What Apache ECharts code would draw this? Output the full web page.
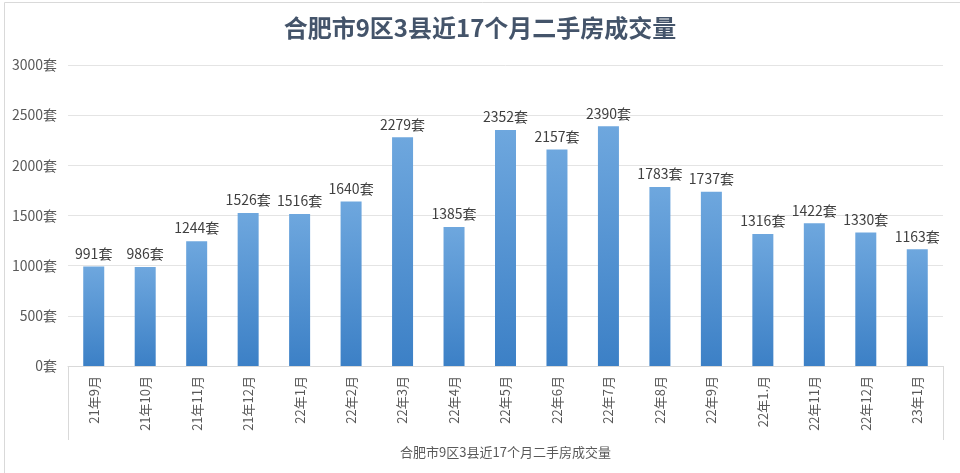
<!DOCTYPE html>
<html><head><meta charset="utf-8">
<script src="https://cdn.jsdelivr.net/npm/echarts@6/dist/echarts.min.js"></script>
<style>html,body{margin:0;padding:0;background:#fff}#c{width:960px;height:473px}</style>
</head><body><div id="c"></div>
<script>
var titleText = '合肥市9区3县近17个月二手房成交量';
var categories = ['21年9月','21年10月','21年11月','21年12月','22年1月','22年2月','22年3月','22年4月','22年5月','22年6月','22年7月','22年8月','22年9月','22年1.月','22年11月','22年12月','23年1月'];
var values = [991,986,1244,1526,1516,1640,2279,1385,2352,2157,2390,1783,1737,1316,1422,1330,1163];
var yTicks = {min:0, max:3000, interval:500, unit:'套'};

var chart = echarts.init(document.getElementById('c'));
var font = '"Noto Sans CJK SC","Noto Sans",sans-serif';
var gridLeft = 68, gridRight = 17, gridTop = 65, gridBottom = 107;
chart.setOption({
  backgroundColor:'#fff',
  textStyle:{fontFamily:font},
  title:{text:titleText,left:'center',top:11,textStyle:{fontSize:24,fontWeight:'bold',color:'#44546A',fontFamily:font}},
  grid:{left:gridLeft,right:gridRight,top:gridTop,bottom:gridBottom,containLabel:false},
  xAxis:{
    type:'category',data:categories,
    name:titleText,nameLocation:'middle',nameGap:80,
    nameTextStyle:{fontSize:13,color:'#595959'},
    axisLine:{lineStyle:{color:'#D9D9D9'}},
    axisTick:{show:false},
    axisLabel:{rotate:90,fontSize:13,color:'#595959',margin:10}
  },
  yAxis:{
    type:'value',min:yTicks.min,max:yTicks.max,interval:yTicks.interval,
    axisLine:{show:false},axisTick:{show:false},
    splitLine:{lineStyle:{color:'#E4E4E4'}},
    axisLabel:{fontSize:14,color:'#595959',margin:11,formatter:function(v){return v+yTicks.unit;}}
  },
  series:[{
    type:'bar',data:values,barWidth:21,
    itemStyle:{color:new echarts.graphic.LinearGradient(0,0,0,1,[{offset:0,color:'#6EA7DE'},{offset:1,color:'#3C80C6'}])},
    label:{show:true,position:'top',distance:6,fontSize:14,color:'#404040',formatter:function(p){return p.value+yTicks.unit;}}
  }],
  graphic:[
    {type:'rect',left:2,top:0,shape:{width:956,height:472},style:{fill:'none',stroke:'#D9D9D9',lineWidth:1},silent:true},
    {type:'line',shape:{x1:gridLeft+0.5,y1:473-gridBottom,x2:gridLeft+0.5,y2:473-gridBottom+74},style:{stroke:'#D9D9D9',lineWidth:1},silent:true},
    {type:'line',shape:{x1:960-gridRight+0.5,y1:473-gridBottom,x2:960-gridRight+0.5,y2:473-gridBottom+74},style:{stroke:'#D9D9D9',lineWidth:1},silent:true}
  ]
});
</script></body></html>
